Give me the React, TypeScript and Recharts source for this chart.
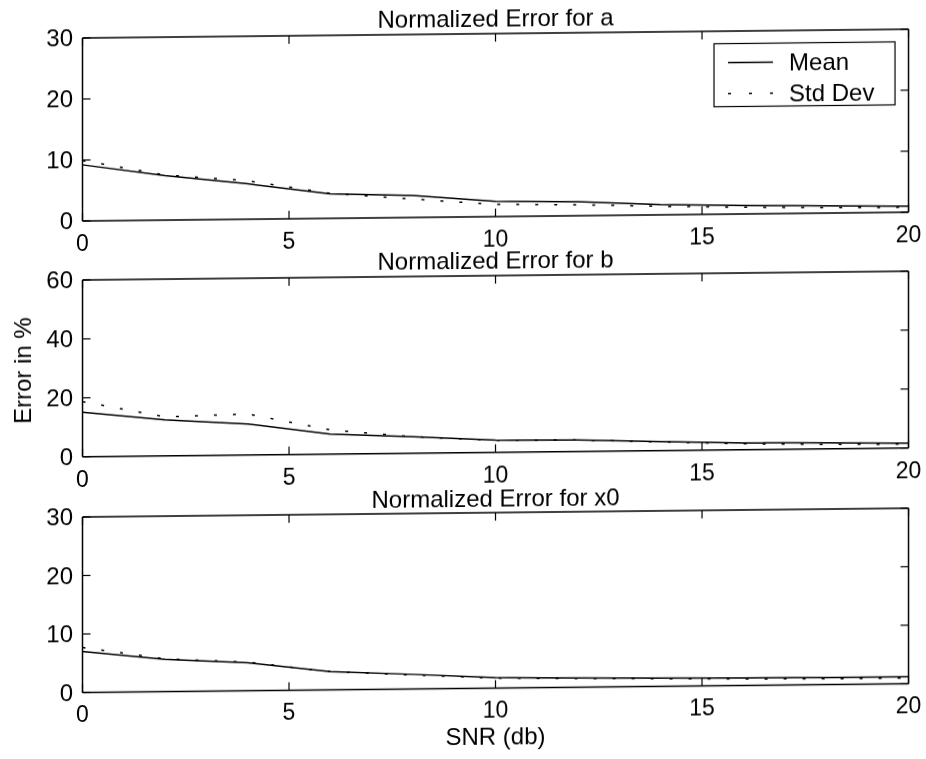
import { Line, LineChart, XAxis, YAxis } from 'recharts';

const SNR_DB = [0, 2, 4, 6, 8, 10, 12, 14, 16, 18, 20];
const X_TICKS = [0, 5, 10, 15, 20];

const MEAN_A = [9.2, 7.3, 5.8, 4.0, 3.6, 2.5, 2.3, 1.7, 1.4, 1.2, 1.0];
const STD_A = [9.9, 7.4, 6.3, 4.1, 3.0, 2.0, 1.8, 1.4, 1.1, 0.9, 0.8];
const MEAN_B = [15.1, 12.2, 10.5, 6.8, 5.6, 4.1, 3.9, 3.0, 2.3, 2.0, 1.6];
const STD_B = [18.7, 13.2, 13.9, 8.2, 5.6, 4.1, 3.9, 2.9, 2.0, 1.5, 1.3];
const MEAN_X0 = [7.0, 5.5, 4.8, 3.1, 2.5, 1.8, 1.6, 1.4, 1.3, 1.2, 1.2];
const STD_X0 = [7.7, 5.6, 4.9, 3.1, 2.4, 1.7, 1.5, 1.3, 1.1, 1.0, 1.0];

const TICKS_30 = [0, 10, 20, 30];
const TICKS_60 = [0, 20, 40, 60];

const TITLES = ['Normalized Error for a', 'Normalized Error for b', 'Normalized Error for x0'];

const FONT = '"Liberation Sans", Arial, Helvetica, sans-serif';
const FS = 24;
const TICK_FS = 23;
const TICK_LEN = 8;
const W = 926;
const PLOT_LEFT = 82.5;
const PLOT_RIGHT = 908.5;

type TickProps = { x: number; y: number; payload: { value: number } };

const BottomTick = ({ x, y, payload }: TickProps) => (
  <g>
    <line x1={x} y1={y} x2={x} y2={y - TICK_LEN} stroke="#000" strokeWidth={1.2} />
    <text x={x} y={y + 30} textAnchor="middle" fontSize={TICK_FS} fontFamily={FONT} fill="#000">
      {payload.value}
    </text>
  </g>
);

const TopTick = ({ x, y }: TickProps) => (
  <line x1={x} y1={y} x2={x} y2={y + TICK_LEN} stroke="#000" strokeWidth={1.2} />
);

const LeftTick = ({ x, y, payload }: TickProps) => (
  <g>
    <line x1={x} y1={y} x2={x + TICK_LEN} y2={y} stroke="#000" strokeWidth={1.2} />
    <text x={x - 9.5} y={y + 8.2} textAnchor="end" fontSize={FS} fontFamily={FONT} fill="#000">
      {payload.value}
    </text>
  </g>
);

const RightTick = ({ x, y }: TickProps) => (
  <line x1={x} y1={y} x2={x - TICK_LEN} y2={y} stroke="#000" strokeWidth={1.2} />
);

type PanelProps = {
  mean: number[];
  std: number[];
  yMax: number;
  yTicks: number[];
  plotTop: number;
  plotHeight: number;
};

const AXIS_LINE = { stroke: '#000', strokeWidth: 1.5 };

function Panel({ mean, std, yMax, yTicks, plotTop, plotHeight }: PanelProps) {
  const rows = SNR_DB.map((snr, i) => ({ snr, mean: mean[i], std: std[i] }));
  return (
    <div style={{ position: 'absolute', left: 0, top: plotTop - 10 }}>
      <LineChart
        width={W}
        height={plotHeight + 50}
        data={rows}
        margin={{ top: 9, right: W - PLOT_RIGHT - 1, bottom: 0, left: 0 }}
      >
        <XAxis
          xAxisId="b"
          type="number"
          dataKey="snr"
          domain={[0, 20]}
          ticks={X_TICKS}
          interval={0}
          height={40}
          tickSize={0}
          tickMargin={0}
          tickLine={false}
          axisLine={AXIS_LINE}
          tick={BottomTick}
          allowDataOverflow
        />
        {/* top and right axes only close the box, ticks point inward */}
        <XAxis
          xAxisId="t"
          orientation="top"
          type="number"
          dataKey="snr"
          domain={[0, 20]}
          ticks={X_TICKS}
          interval={0}
          height={1}
          tickSize={0}
          tickMargin={0}
          tickLine={false}
          axisLine={AXIS_LINE}
          tick={TopTick}
          allowDataOverflow
        />
        <YAxis
          yAxisId="l"
          type="number"
          domain={[0, yMax]}
          ticks={yTicks}
          interval={0}
          width={PLOT_LEFT}
          tickSize={0}
          tickMargin={0}
          tickLine={false}
          axisLine={AXIS_LINE}
          tick={LeftTick}
          allowDataOverflow
        />
        <YAxis
          yAxisId="r"
          orientation="right"
          type="number"
          domain={[0, yMax]}
          ticks={yTicks}
          interval={0}
          width={1}
          tickSize={0}
          tickMargin={0}
          tickLine={false}
          axisLine={AXIS_LINE}
          tick={RightTick}
          allowDataOverflow
        />
        <Line
          xAxisId="t"
          yAxisId="r"
          type="linear"
          dataKey="mean"
          stroke="none"
          dot={false}
          activeDot={false}
          isAnimationActive={false}
        />
        <Line
          xAxisId="b"
          yAxisId="l"
          type="linear"
          dataKey="mean"
          stroke="#000"
          strokeWidth={1.5}
          dot={false}
          isAnimationActive={false}
        />
        <Line
          xAxisId="b"
          yAxisId="l"
          type="linear"
          dataKey="std"
          stroke="#000"
          strokeWidth={1.5}
          strokeDasharray="3 16"
          dot={false}
          isAnimationActive={false}
        />
      </LineChart>
    </div>
  );
}

const PANELS = [
  { mean: MEAN_A, std: STD_A, yMax: 30, yTicks: TICKS_30, plotTop: 37.5, plotHeight: 183, titleGap: 6.5 },
  { mean: MEAN_B, std: STD_B, yMax: 60, yTicks: TICKS_60, plotTop: 280, plotHeight: 176.7, titleGap: 7 },
  { mean: MEAN_X0, std: STD_X0, yMax: 30, yTicks: TICKS_30, plotTop: 517, plotHeight: 175.5, titleGap: 6 },
];

export default function App() {
  const midX = (PLOT_LEFT + PLOT_RIGHT) / 2;
  return (
    <div
      style={{
        position: 'fixed',
        left: 0,
        top: 0,
        width: W,
        height: 759,
        background: '#fff',
        transform: 'skewY(-0.61deg)',
        transformOrigin: '83px 0px',
      }}
    >
      {PANELS.map(({ titleGap, ...p }, i) => (
        <Panel key={TITLES[i]} {...p} />
      ))}
      <svg
        width={W}
        height={759}
        style={{ position: 'absolute', left: 0, top: 0, pointerEvents: 'none' }}
        fontFamily={FONT}
        fontSize={FS}
        fill="#000"
      >
        {PANELS.map((p, i) => (
          <text key={TITLES[i]} x={midX} y={p.plotTop - p.titleGap} textAnchor="middle">
            {TITLES[i]}
          </text>
        ))}
        <text x={midX} y={749} textAnchor="middle">
          SNR (db)
        </text>
        <text x={31.5} y={370} textAnchor="middle" transform="rotate(-90 31.5 370)">
          Error in %
        </text>
        {/* legend of the top panel */}
        <rect x={714} y={50.5} width={181} height={63} fill="#fff" stroke="#000" strokeWidth={1.2} />
        <line x1={728} y1={69.5} x2={773} y2={69.5} stroke="#000" strokeWidth={1.5} />
        <text x={789} y={78}>Mean</text>
        <line x1={728} y1={100.5} x2={773} y2={100.5} stroke="#000" strokeWidth={1.5} strokeDasharray="3 18" />
        <text x={789} y={109}>Std Dev</text>
      </svg>
    </div>
  );
}
